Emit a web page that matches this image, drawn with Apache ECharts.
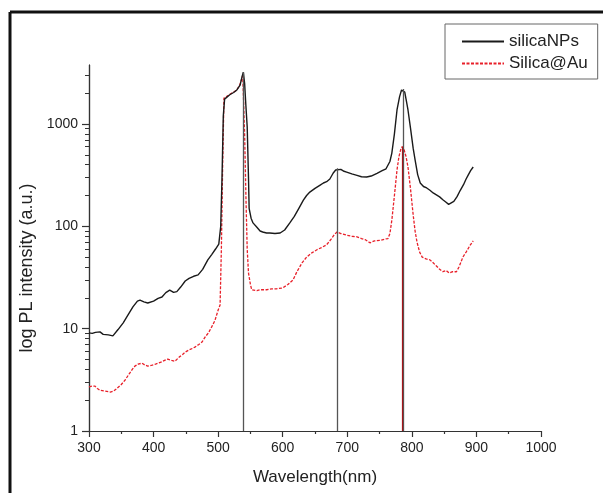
<!DOCTYPE html>
<html>
<head>
<meta charset="utf-8">
<script src="https://cdn.jsdelivr.net/npm/echarts@6/dist/echarts.min.js"></script>
<style>
  html, body { margin: 0; padding: 0; background: #fff; }
  #chart { width: 603px; height: 493px; }
</style>
</head>
<body>
<div id="chart"></div>
<script>
// silicaNPs spectrum
const blackWl = [300, 305, 310, 317, 322, 330, 337, 345, 353, 360, 368, 375, 379, 385, 391, 400, 407, 413, 419, 425,
  431, 436, 442, 449, 455, 462, 469, 476, 484, 490, 496, 501, 504, 506, 508, 510, 513, 518, 524, 529,
  534, 537, 539, 541, 543, 545, 547, 548, 551, 554, 560, 565, 569, 575, 580, 588, 596, 603, 611, 618,
  625, 632, 637, 642, 650, 658, 663, 668, 673, 678, 682, 685, 690, 695, 699, 707, 715, 722, 730, 737,
  746, 754, 760, 763, 766, 769, 773, 777, 781, 784, 786, 789, 791, 794, 798, 802, 805, 809, 813, 818,
  823, 828, 833, 838, 843, 848, 853, 857, 860, 865, 870, 875, 880, 884, 887, 891, 895];
const blackVal = [9.1, 9.0, 9.2, 9.3, 8.8, 8.7, 8.5, 9.8, 11.4, 13.5, 16.3, 18.6, 19.0, 18.3, 17.8, 18.6, 19.8, 20.4, 22.5, 23.8,
  22.6, 23.0, 25.5, 29.2, 31, 32.5, 33.5, 38, 47, 53, 60, 67, 100, 300, 1200, 1750, 1830, 1930, 2030, 2150,
  2400, 2900, 3200, 2500, 1500, 940, 300, 150, 120, 108, 98, 90, 88, 86, 86, 85, 86, 92, 108, 125,
  150, 180, 200, 216, 235, 253, 265, 273, 290, 330, 355, 370, 360, 345, 339, 325, 315, 305, 303, 310,
  330, 350, 365, 380, 430, 520, 800, 1370, 1850, 2150, 2200, 2050, 1750, 1370, 900, 580, 445, 320, 265, 245,
  237, 225, 212, 203, 194, 182, 172, 164, 162, 175, 195, 225, 255, 290, 315, 350, 380];

// Silica@Au spectrum
const redWl = [300, 305, 309, 313, 317, 325, 333, 338, 343, 350, 356, 362, 367, 371, 376, 382, 387, 391, 398, 403,
  407, 413, 417, 422, 428, 433, 440, 445, 449, 455, 460, 464, 470, 475, 480, 485, 490, 495, 500, 503,
  505, 507, 509, 513, 518, 524, 529, 534, 538, 539, 541, 543, 545, 547, 550, 552, 560, 565, 575, 583,
  590, 600, 608, 616, 622, 630, 637, 645, 653, 660, 668, 675, 680, 684, 690, 699, 707, 715, 722, 728,
  735, 742, 751, 758, 763, 766, 769, 773, 777, 780, 783, 785, 788, 791, 794, 798, 802, 805, 808, 812,
  816, 822, 828, 833, 838, 843, 848, 853, 858, 863, 869, 873, 879, 884, 890, 895];
const redVal = [2.7, 2.75, 2.75, 2.6, 2.5, 2.45, 2.4, 2.45, 2.6, 2.85, 3.15, 3.6, 4.0, 4.3, 4.5, 4.6, 4.4, 4.3, 4.4, 4.5,
  4.6, 4.75, 4.9, 5.05, 4.9, 4.8, 5.3, 5.6, 5.9, 6.2, 6.4, 6.6, 7.0, 7.4, 8.3, 9.1, 10.4, 12, 15.2, 17,
  60, 400, 1790, 1850, 1950, 2050, 2150, 2450, 2950, 2000, 800, 200, 60, 35, 27, 24, 23.5, 24, 24, 24.5,
  24.5, 25, 27, 30, 36, 44, 50, 55, 59, 62, 66, 75, 83, 88, 85, 82, 80, 79, 76, 74,
  69, 72, 73, 75, 76, 85, 115, 200, 355, 480, 570, 600, 560, 480, 380, 230, 130, 90, 70, 56,
  50, 48, 47, 44, 41, 38, 36, 37, 35, 36, 36, 40, 50, 56, 65, 72];

// drop lines (wavelengths where a vertical line goes down to the axis)
const blackDrops = [539, 685, 786];
const redDrops = [785];

const yMajor = [1, 10, 100, 1000];
const yMinor = [2, 3, 4, 5, 6, 7, 8, 9, 20, 30, 40, 50, 60, 70, 80, 90,
  200, 300, 400, 500, 600, 700, 800, 900, 2000, 3000];

function pairs(wl, val) {
  return wl.map((w, i) => [w, val[i]]);
}
function drops(list, wl, val) {
  return list.map(w => {
    const i = wl.indexOf(w);
    return [{ coord: [w, val[i]] }, { coord: [w, 1] }];
  });
}

const chart = echarts.init(document.getElementById('chart'));
const font = 'Liberation Sans, Arial, sans-serif';
const plain = v => String(v);

chart.setOption({
  animation: false,
  backgroundColor: '#fff',
  textStyle: { fontFamily: font },
  grid: { left: 89, right: 62, top: 65, bottom: 62 },
  legend: {
    left: 445,
    top: 24,
    orient: 'vertical',
    padding: [9, 10, 7, 16],
    itemGap: 5,
    itemWidth: 42,
    itemHeight: 12,
    borderColor: '#666',
    borderWidth: 1,
    itemStyle: { opacity: 0 },
    textStyle: { fontSize: 17, color: '#222', fontFamily: font },
    data: ['silicaNPs', 'Silica@Au']
  },
  xAxis: {
    type: 'value',
    min: 300,
    max: 1000,
    interval: 100,
    name: 'Wavelength(nm)',
    nameLocation: 'middle',
    nameGap: 38,
    nameTextStyle: { fontSize: 17, color: '#222', fontFamily: font },
    axisLine: { lineStyle: { color: '#333', width: 1.2 } },
    axisTick: { length: 6, lineStyle: { color: '#333', width: 1.2 } },
    minorTick: { show: true, splitNumber: 2, length: 3, lineStyle: { color: '#333', width: 1.2 } },
    axisLabel: { fontSize: 14, color: '#222', margin: 10, fontFamily: font, formatter: plain },
    splitLine: { show: false }
  },
  yAxis: [{
    type: 'log',
    min: 1,
    max: 3770,
    name: 'log PL intensity (a.u.)',
    nameLocation: 'middle',
    nameGap: 48,
    nameTextStyle: { fontSize: 18, color: '#222', fontFamily: font, padding: [0, 40, 0, 0] },
    axisLine: { show: true, lineStyle: { color: '#333', width: 1.2 } },
    axisTick: { show: true, length: 7, customValues: yMajor, lineStyle: { color: '#333', width: 1.2 } },
    axisLabel: { fontSize: 14, color: '#222', margin: 11, customValues: yMajor, fontFamily: font, formatter: plain },
    splitLine: { show: false }
  }, {
    type: 'log',
    min: 1,
    max: 3770,
    position: 'left',
    offset: 0,
    axisLine: { show: true, lineStyle: { color: '#333', width: 1.2 } },
    axisTick: { show: true, length: 4, customValues: yMinor, lineStyle: { color: '#333', width: 1 } },
    axisLabel: { show: false },
    splitLine: { show: false }
  }],
  graphic: [
    { type: 'line', shape: { x1: 10, y1: 12, x2: 603, y2: 12 }, style: { stroke: '#111', lineWidth: 3 } },
    { type: 'line', shape: { x1: 10, y1: 12, x2: 10, y2: 493 }, style: { stroke: '#111', lineWidth: 3 } }
  ],
  series: [{
    name: 'silicaNPs',
    type: 'line',
    symbol: 'none',
    color: '#1a1a1a',
    lineStyle: { color: '#1a1a1a', width: 1.4 },
    data: pairs(blackWl, blackVal),
    markLine: {
      silent: true,
      symbol: 'none',
      label: { show: false },
      lineStyle: { color: '#555', width: 1.3, type: 'solid' },
      data: drops(blackDrops, blackWl, blackVal)
    },
    z: 3
  }, {
    name: 'Silica@Au',
    type: 'line',
    symbol: 'none',
    color: '#e8202a',
    lineStyle: { color: '#e8202a', width: 1.3, type: [3, 1.5] },
    data: pairs(redWl, redVal),
    markLine: {
      silent: true,
      symbol: 'none',
      label: { show: false },
      lineStyle: { color: '#a5161b', width: 1.2, type: 'solid' },
      data: drops(redDrops, redWl, redVal)
    },
    z: 2
  }]
});
</script>
</body>
</html>
